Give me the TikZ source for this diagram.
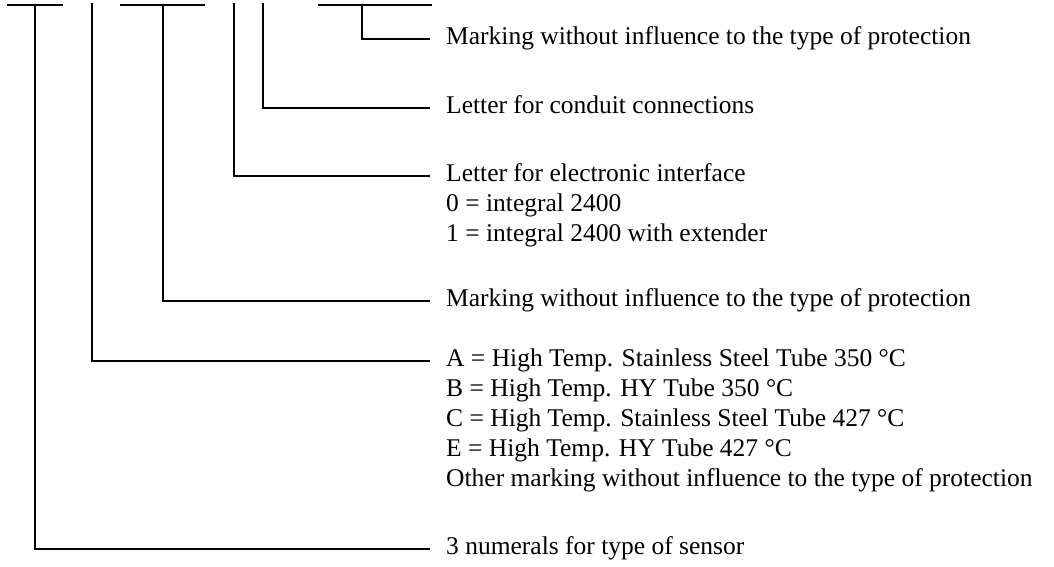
\documentclass[tikz,border=0pt]{standalone}
\usepackage{fontspec}
\setmainfont{Liberation Serif}
\begin{document}
\begin{tikzpicture}[x=1pt,y=-1pt,
  conn/.style={line width=1.7pt, line join=miter},
  lbl/.style={anchor=base west, inner sep=0pt, font=\fontsize{25.5}{30}\selectfont},
  nextline/.style={yshift=-30pt}]
\useasboundingbox (0,0) rectangle (1054,566);
% top bars
\coordinate (b1l) at (7,5);   \coordinate (b1r) at (63,5);
\coordinate (b2l) at (120,5); \coordinate (b2r) at (205,5);
\coordinate (b3l) at (318,5); \coordinate (b3r) at (432,5);
% vertical starts
\coordinate (v1) at (35,5);
\coordinate (v2) at (92,3);
\coordinate (v3) at (163,5);
\coordinate (v4) at (234,3);
\coordinate (v5) at (263,3);
\coordinate (v6) at (362,5);
% corners
\coordinate (c1) at (35,549);
\coordinate (c2) at (92,361);
\coordinate (c3) at (163,301);
\coordinate (c4) at (234,176);
\coordinate (c5) at (263,108);
\coordinate (c6) at (362,39);
% line ends
\coordinate (e1) at (430,549);
\coordinate (e2) at (430,361);
\coordinate (e3) at (430,301);
\coordinate (e4) at (430,176);
\coordinate (e5) at (430,108);
\coordinate (e6) at (430,39);

\draw[conn] (b1l) -- (b1r);
\draw[conn] (b2l) -- (b2r);
\draw[conn] (b3l) -- (b3r);
\draw[conn] (v1) -- (c1) -- (e1);
\draw[conn] (v2) -- (c2) -- (e2);
\draw[conn] (v3) -- (c3) -- (e3);
\draw[conn] (v4) -- (c4) -- (e4);
\draw[conn] (v5) -- (c5) -- (e5);
\draw[conn] (v6) -- (c6) -- (e6);

\node[lbl] (t6) at ([xshift=16pt,yshift=-5.7pt]e6) {Marking without influence to the type of protection};
\node[lbl] (t5) at ([xshift=16pt,yshift=-5.7pt]e5) {Letter for conduit connections};
\node[lbl] (t4a) at ([xshift=16pt,yshift=-5.7pt]e4) {Letter for electronic interface};
\node[lbl] (t4b) at ([nextline]t4a.base west) {0 = integral 2400};
\node[lbl] (t4c) at ([nextline]t4b.base west) {1 = integral 2400 with extender};
\node[lbl] (t3) at ([xshift=16pt,yshift=-5.7pt]e3) {Marking without influence to the type of protection};
\node[lbl] (t2a) at ([xshift=16pt,yshift=-5.7pt]e2) {A = High Temp. Stainless Steel Tube 350 °C};
\node[lbl] (t2b) at ([nextline]t2a.base west) {B = High Temp. HY Tube 350 °C};
\node[lbl] (t2c) at ([nextline]t2b.base west) {C = High Temp. Stainless Steel Tube 427 °C};
\node[lbl] (t2d) at ([nextline]t2c.base west) {E = High Temp. HY Tube 427 °C};
\node[lbl] (t2e) at ([nextline]t2d.base west) {Other marking without influence to the type of protection};
\node[lbl] (t1) at ([xshift=16pt,yshift=-5.7pt]e1) {3 numerals for type of sensor};
\end{tikzpicture}
\end{document}
